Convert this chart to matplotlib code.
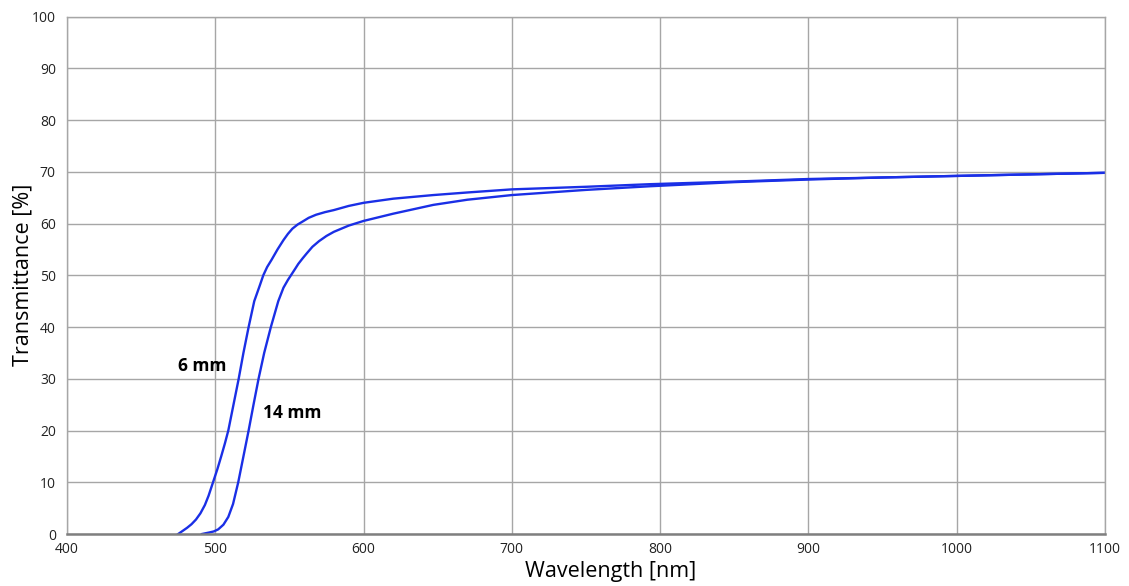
import matplotlib
matplotlib.use("Agg")
import matplotlib.pyplot as plt

# Data
wl_6mm = [475, 478, 481, 484, 487, 490, 493, 495.5, 498.5, 501.5, 504, 506.5, 508.8, 512.3, 515.8, 519, 522.5,
          526.3, 530, 532.4, 535, 538, 542, 546, 549, 552, 555.5, 559, 563, 568, 574, 580, 590, 600, 620,
          647, 670, 700, 750, 793, 850, 900, 950, 1000, 1050, 1100]
t_6mm = [0, 0.6, 1.2, 1.9, 2.8, 4.0, 5.6, 7.4, 10, 12.6, 15, 17.5, 20, 25, 30, 35, 40,
         45, 48, 50, 51.6, 53, 55, 56.8, 58, 59, 59.8, 60.4, 61.1, 61.7, 62.2, 62.6, 63.4, 64.0, 64.8,
         65.5, 66.0, 66.6, 67.1, 67.6, 68.1, 68.6, 68.9, 69.2, 69.5, 69.8]

wl_14mm = [491, 493.5, 496, 499, 502, 505.5, 508.8, 512, 515.5, 519, 522.5, 525.8, 529.2, 533, 537.5,
           542.5, 546, 549, 551.5, 554, 556, 559, 561.6, 565.5, 570, 575, 580, 590, 600, 620, 647,
           670, 700, 750, 793, 850, 900, 950, 1000, 1050, 1100]
t_14mm = [0, 0.15, 0.3, 0.5, 0.9, 1.8, 3.3, 5.8, 10, 15, 20, 25, 30, 35, 40,
          45, 47.6, 49.1, 50.2, 51.3, 52.2, 53.3, 54.2, 55.5, 56.6, 57.6, 58.4, 59.6, 60.5, 61.9, 63.6,
          64.6, 65.5, 66.5, 67.2, 68.0, 68.5, 68.9, 69.2, 69.5, 69.8]

x_ticks = [400, 500, 600, 700, 800, 900, 1000, 1100]
y_ticks = [0, 10, 20, 30, 40, 50, 60, 70, 80, 90, 100]

labels = ["6 mm", "14 mm"]
label_pos = [(491.4, 32.5), (552, 23.3)]

plt.rcParams['font.family'] = ['Open Sans', 'DejaVu Sans']

fig = plt.figure(figsize=(11.29, 5.86), dpi=100)
ax = fig.add_axes([0.0593, 0.0887, 0.9195, 0.8831])

line_color = '#1a2fe6'
ax.plot(wl_6mm, t_6mm, color=line_color, lw=1.7, solid_joinstyle='round')
ax.plot(wl_14mm, t_14mm, color=line_color, lw=1.7, solid_joinstyle='round')

for lab, (x, y) in zip(labels, label_pos):
    ax.text(x, y, lab, fontsize=12.5, fontweight='bold', ha='center', va='center', color='black')

ax.set_xlim(400, 1100)
ax.set_ylim(0, 100)
ax.set_xticks(x_ticks)
ax.set_yticks(y_ticks)
ax.grid(True, color='#a6a6a6', lw=1.0)
ax.set_axisbelow(True)
ax.tick_params(length=0, labelsize=10, colors='#222222')
ax.tick_params(axis='x', pad=6)
ax.tick_params(axis='y', pad=8)

for s in ['top', 'right', 'left']:
    ax.spines[s].set_color('#a6a6a6')
    ax.spines[s].set_linewidth(1.0)
ax.spines['bottom'].set_color('#7f7f7f')
ax.spines['bottom'].set_linewidth(1.8)

ax.set_xlabel('Wavelength [nm]', fontsize=15.5)
ax.xaxis.set_label_coords(0.524, -0.073)
ax.xaxis.label.set_va('center')
ax.set_ylabel('Transmittance [%]', fontsize=15.5)
ax.yaxis.set_label_coords(-0.0425, 0.5)
ax.yaxis.label.set_va('center')

fig.savefig('out.png', dpi=100)
